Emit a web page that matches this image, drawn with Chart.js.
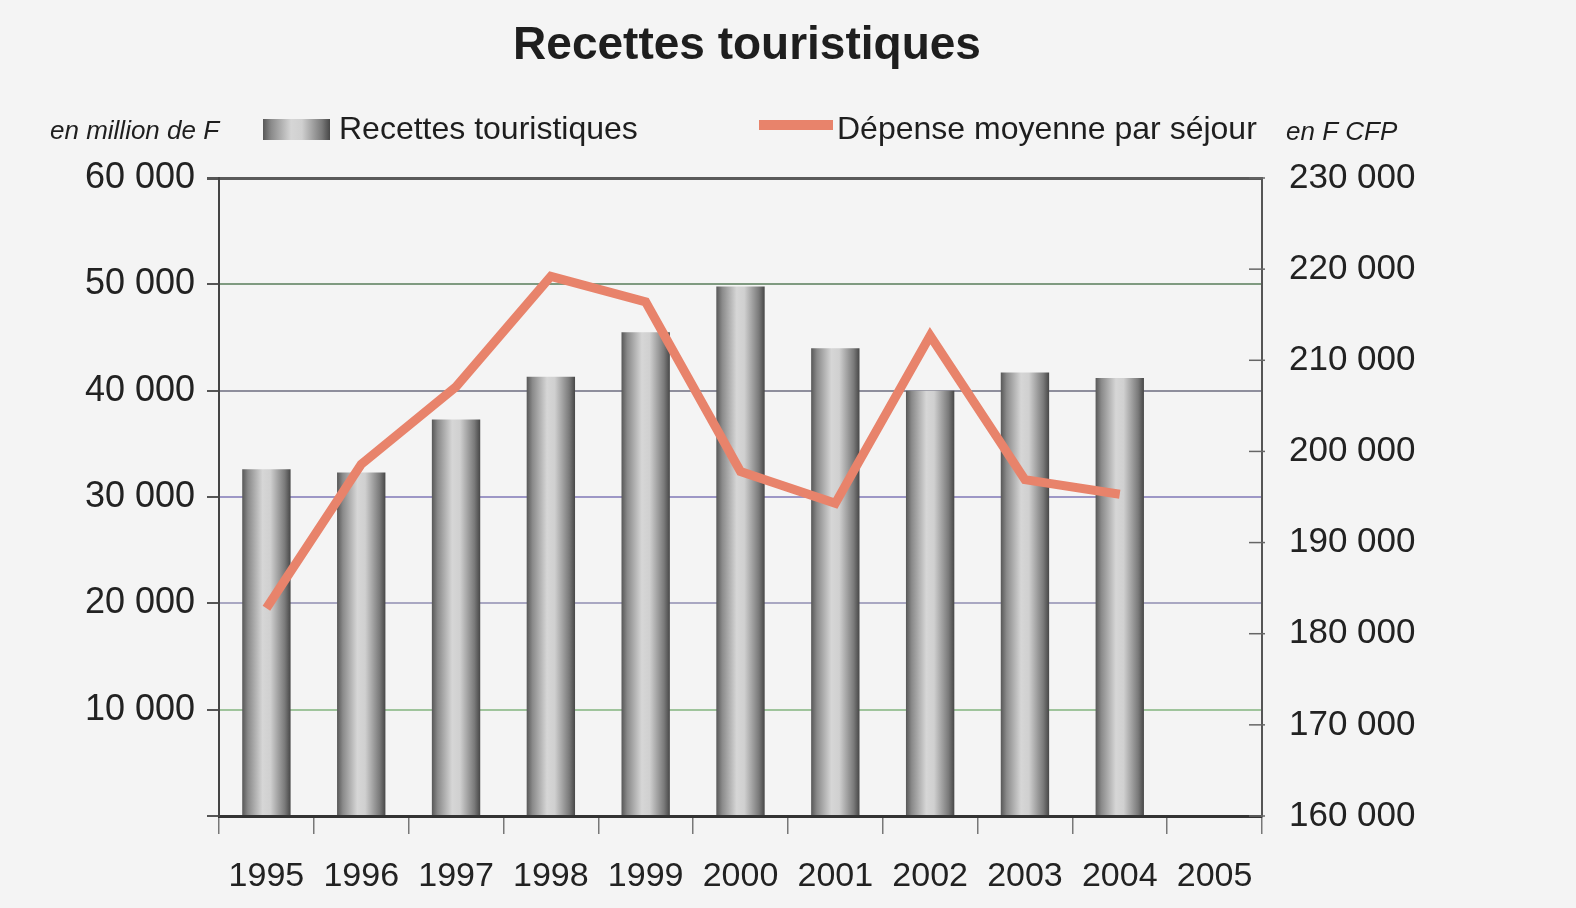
<!DOCTYPE html>
<html>
<head>
<meta charset="utf-8">
<script src="https://cdn.jsdelivr.net/npm/chart.js@4.4.0/dist/chart.umd.min.js"></script>
<style>
  html, body { margin: 0; padding: 0; background: #f4f4f4; }
</style>
</head>
<body>
<canvas id="graficoRecettes" width="1576" height="908"></canvas>
<script>
// Données
const annees = ["1995", "1996", "1997", "1998", "1999", "2000", "2001", "2002", "2003", "2004", "2005"];
const recettes = [32600, 32300, 37300, 41300, 45500, 49800, 44000, 40000, 41700, 41200, null];
const depenseMoyenne = [182800, 198600, 207100, 219200, 216400, 197800, 194300, 212700, 196900, 195300, null];
const titre = "Recettes touristiques";
const uniteGauche = "en million de F";
const uniteDroite = "en F CFP";

// couleurs des lignes de grille (0 à 60 000)
const couleursGrille = ["#333333", "#9fc49c", "#a9a7c2", "#9d97c6", "#8e8e9c", "#7f9a80", "#5a5a5a"];
const couleurLigne = "#e8836b";
const police = "'Liberation Sans', Arial, sans-serif";

function formatMilliers(v) {
  return String(v).replace(/\B(?=(\d{3})+(?!\d))/g, " ");
}

function degradeCylindre(ctx, x0, x1) {
  const g = ctx.createLinearGradient(x0, 0, x1, 0);
  g.addColorStop(0, "#575757");
  g.addColorStop(0.12, "#8a8a8a");
  g.addColorStop(0.42, "#d6d6d6");
  g.addColorStop(0.58, "#d0d0d0");
  g.addColorStop(0.88, "#7a7a7a");
  g.addColorStop(1, "#474747");
  return g;
}

Chart.defaults.font.family = police;
Chart.defaults.color = "#222";

// Titre, unités et légende dessinés à la main
const entete = {
  id: "entete",
  afterDraw(chart) {
    const ctx = chart.ctx;
    ctx.save();
    ctx.fillStyle = "#1e1e1e";
    ctx.textBaseline = "middle";

    ctx.font = "bold 46px " + police;
    ctx.textAlign = "center";
    ctx.fillText(titre, 747, 46);

    ctx.font = "italic 26px " + police;
    ctx.textAlign = "left";
    ctx.fillText(uniteGauche, 50, 132);
    ctx.fillText(uniteDroite, 1286, 133);

    // légende
    const ds = chart.data.datasets;
    ctx.fillStyle = degradeCylindre(ctx, 263, 330);
    ctx.fillRect(263, 119, 67, 21);
    ctx.fillStyle = "#1e1e1e";
    ctx.font = "32px " + police;
    ctx.fillText(ds[0].label, 339, 130);

    ctx.strokeStyle = couleurLigne;
    ctx.lineWidth = 10;
    ctx.beginPath();
    ctx.moveTo(759, 125);
    ctx.lineTo(833, 125);
    ctx.stroke();
    ctx.fillText(ds[1].label, 837, 130);

    // petites graduations de l'axe droit, vers l'intérieur
    const s = chart.scales.y1;
    ctx.strokeStyle = "#666";
    ctx.lineWidth = 1.5;
    s.ticks.forEach(t => {
      const y = s.getPixelForValue(t.value);
      ctx.beginPath();
      ctx.moveTo(s.left - 13, y);
      ctx.lineTo(s.left + 3, y);
      ctx.stroke();
    });
    ctx.restore();
  }
};

const ctx = document.getElementById("graficoRecettes").getContext("2d");

const config = {
  type: "bar",
  data: {
    labels: annees,
    datasets: [
      {
        type: "bar",
        label: "Recettes touristiques",
        data: recettes,
        yAxisID: "y",
        order: 2,
        categoryPercentage: 1,
        barPercentage: 0.51,
        backgroundColor: (c) => {
          const x = c.chart.scales.x;
          if (!x || !c.chart.chartArea) return "#aaa";
          const centre = x.getPixelForValue(c.dataIndex);
          const demi = (x.width / annees.length) * 0.51 / 2;
          return degradeCylindre(c.chart.ctx, centre - demi, centre + demi);
        }
      },
      {
        type: "line",
        label: "Dépense moyenne par séjour",
        data: depenseMoyenne,
        yAxisID: "y1",
        order: 1,
        borderColor: couleurLigne,
        borderWidth: 9,
        borderJoinStyle: "miter",
        pointRadius: 0,
        tension: 0,
        fill: false
      }
    ]
  },
  options: {
    responsive: false,
    animation: false,
    layout: { padding: { top: 178, left: 0, right: 0, bottom: 0 } },
    plugins: {
      legend: { display: false },
      title: { display: false },
      tooltip: { enabled: false }
    },
    scales: {
      x: {
        offset: true,
        afterFit: (s) => { s.height = 92; },
        grid: {
          offset: true,
          drawOnChartArea: false,
          tickLength: 18,
          color: "#777",
          lineWidth: 1.5
        },
        border: { color: "#333", width: 3 },
        ticks: { padding: 22, maxRotation: 0, font: { size: 34 }, color: "#222" }
      },
      y: {
        position: "left",
        min: 0,
        max: 60000,
        afterFit: (s) => { s.width = 219; },
        ticks: {
          stepSize: 10000,
          padding: 12,
          font: { size: 36 },
          color: "#222",
          callback: (v) => (v === 0 ? "" : formatMilliers(v))
        },
        grid: {
          color: (c) => couleursGrille[c.index] || "#999",
          lineWidth: (c) => (c.index === 6 ? 3 : 2),
          tickColor: "#555",
          tickLength: 12
        },
        border: { color: "#444", width: 2 }
      },
      y1: {
        position: "right",
        min: 160000,
        max: 230000,
        afterFit: (s) => { s.width = 314; },
        ticks: {
          stepSize: 10000,
          padding: 27,
          font: { size: 35 },
          color: "#222",
          callback: (v) => formatMilliers(v)
        },
        grid: { drawOnChartArea: false, drawTicks: false },
        border: { color: "#555", width: 2 }
      }
    }
  },
  plugins: [entete]
};

const chart = new Chart(ctx, config);
</script>
</body>
</html>
